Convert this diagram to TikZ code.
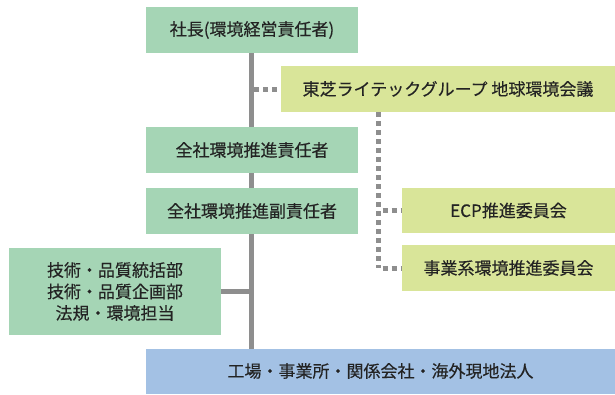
\documentclass[tikz,border=0pt]{standalone}
\usepackage{fontspec}
\setmainfont[FakeBold=0.25]{Noto Sans CJK JP}
\definecolor{boxgreen}{RGB}{165,213,181}
\definecolor{boxyellow}{RGB}{217,229,153}
\definecolor{boxblue}{RGB}{163,193,228}
\definecolor{linegray}{RGB}{142,142,142}
\definecolor{txt}{RGB}{35,35,35}
\tikzset{
  box/.style={rectangle, inner sep=0pt, text=txt, font=\fontsize{17}{21.5}\selectfont, align=center},
  gbox/.style={box, fill=boxgreen},
  ybox/.style={box, fill=boxyellow},
  bbox/.style={box, fill=boxblue},
  solidline/.style={draw=linegray, line width=5pt},
  dotline/.style={draw=linegray, line width=5pt, dash pattern=on 5pt off 4pt},
}
\begin{document}
\begin{tikzpicture}[x=1pt,y=-1pt]
\useasboundingbox (0,0) rectangle (615,394);
% main trunk drawn first
\coordinate (trunkTop) at (251.5,53);
\coordinate (trunkBot) at (251.5,349);
\draw[solidline] (trunkTop) -- (trunkBot);
\coordinate (leftJ) at (251.5,291.5);
% nodes
\node[gbox, minimum width=212pt, minimum height=46pt] (pres) at (252,30) {社長(環境経営責任者)};
\node[ybox, minimum width=334pt, minimum height=46pt] (council) at (448,89) {東芝ライテックグループ 地球環境会議};
\node[gbox, minimum width=212pt, minimum height=46pt] (resp) at (252,150) {全社環境推進責任者};
\node[gbox, minimum width=212pt, minimum height=46pt] (vresp) at (252,211) {全社環境推進副責任者};
\node[ybox, minimum width=213pt, minimum height=45pt] (ecp) at (508.5,210.5) {ECP推進委員会};
\node[ybox, minimum width=213pt, minimum height=46pt] (biz) at (508.5,268) {事業系環境推進委員会};
\node[gbox, minimum width=212pt, minimum height=87pt] (dept) at (115,291.5) {技術・品質統括部\\技術・品質企画部\\法規・環境担当};
\node[bbox, minimum width=469pt, minimum height=45pt] (sites) at (380.5,371) {工場・事業所・関係会社・海外現地法人};
% connectors
\coordinate (cJ) at (254,89);
\draw[dotline] (cJ) -- (council.west);
\draw[solidline] (dept.east) -- (leftJ);
\coordinate (dTop) at (378.5,112);
\coordinate (dEcp) at (378.5,210.5);
\coordinate (dBiz) at (378.5,268);
\draw[dotline] (dTop) -- (dBiz);
\draw[dotline] (dEcp) ++(4,0) -- (ecp.west);
\draw[dotline] (dBiz) ++(4,0) -- (biz.west);
\end{tikzpicture}
\end{document}
